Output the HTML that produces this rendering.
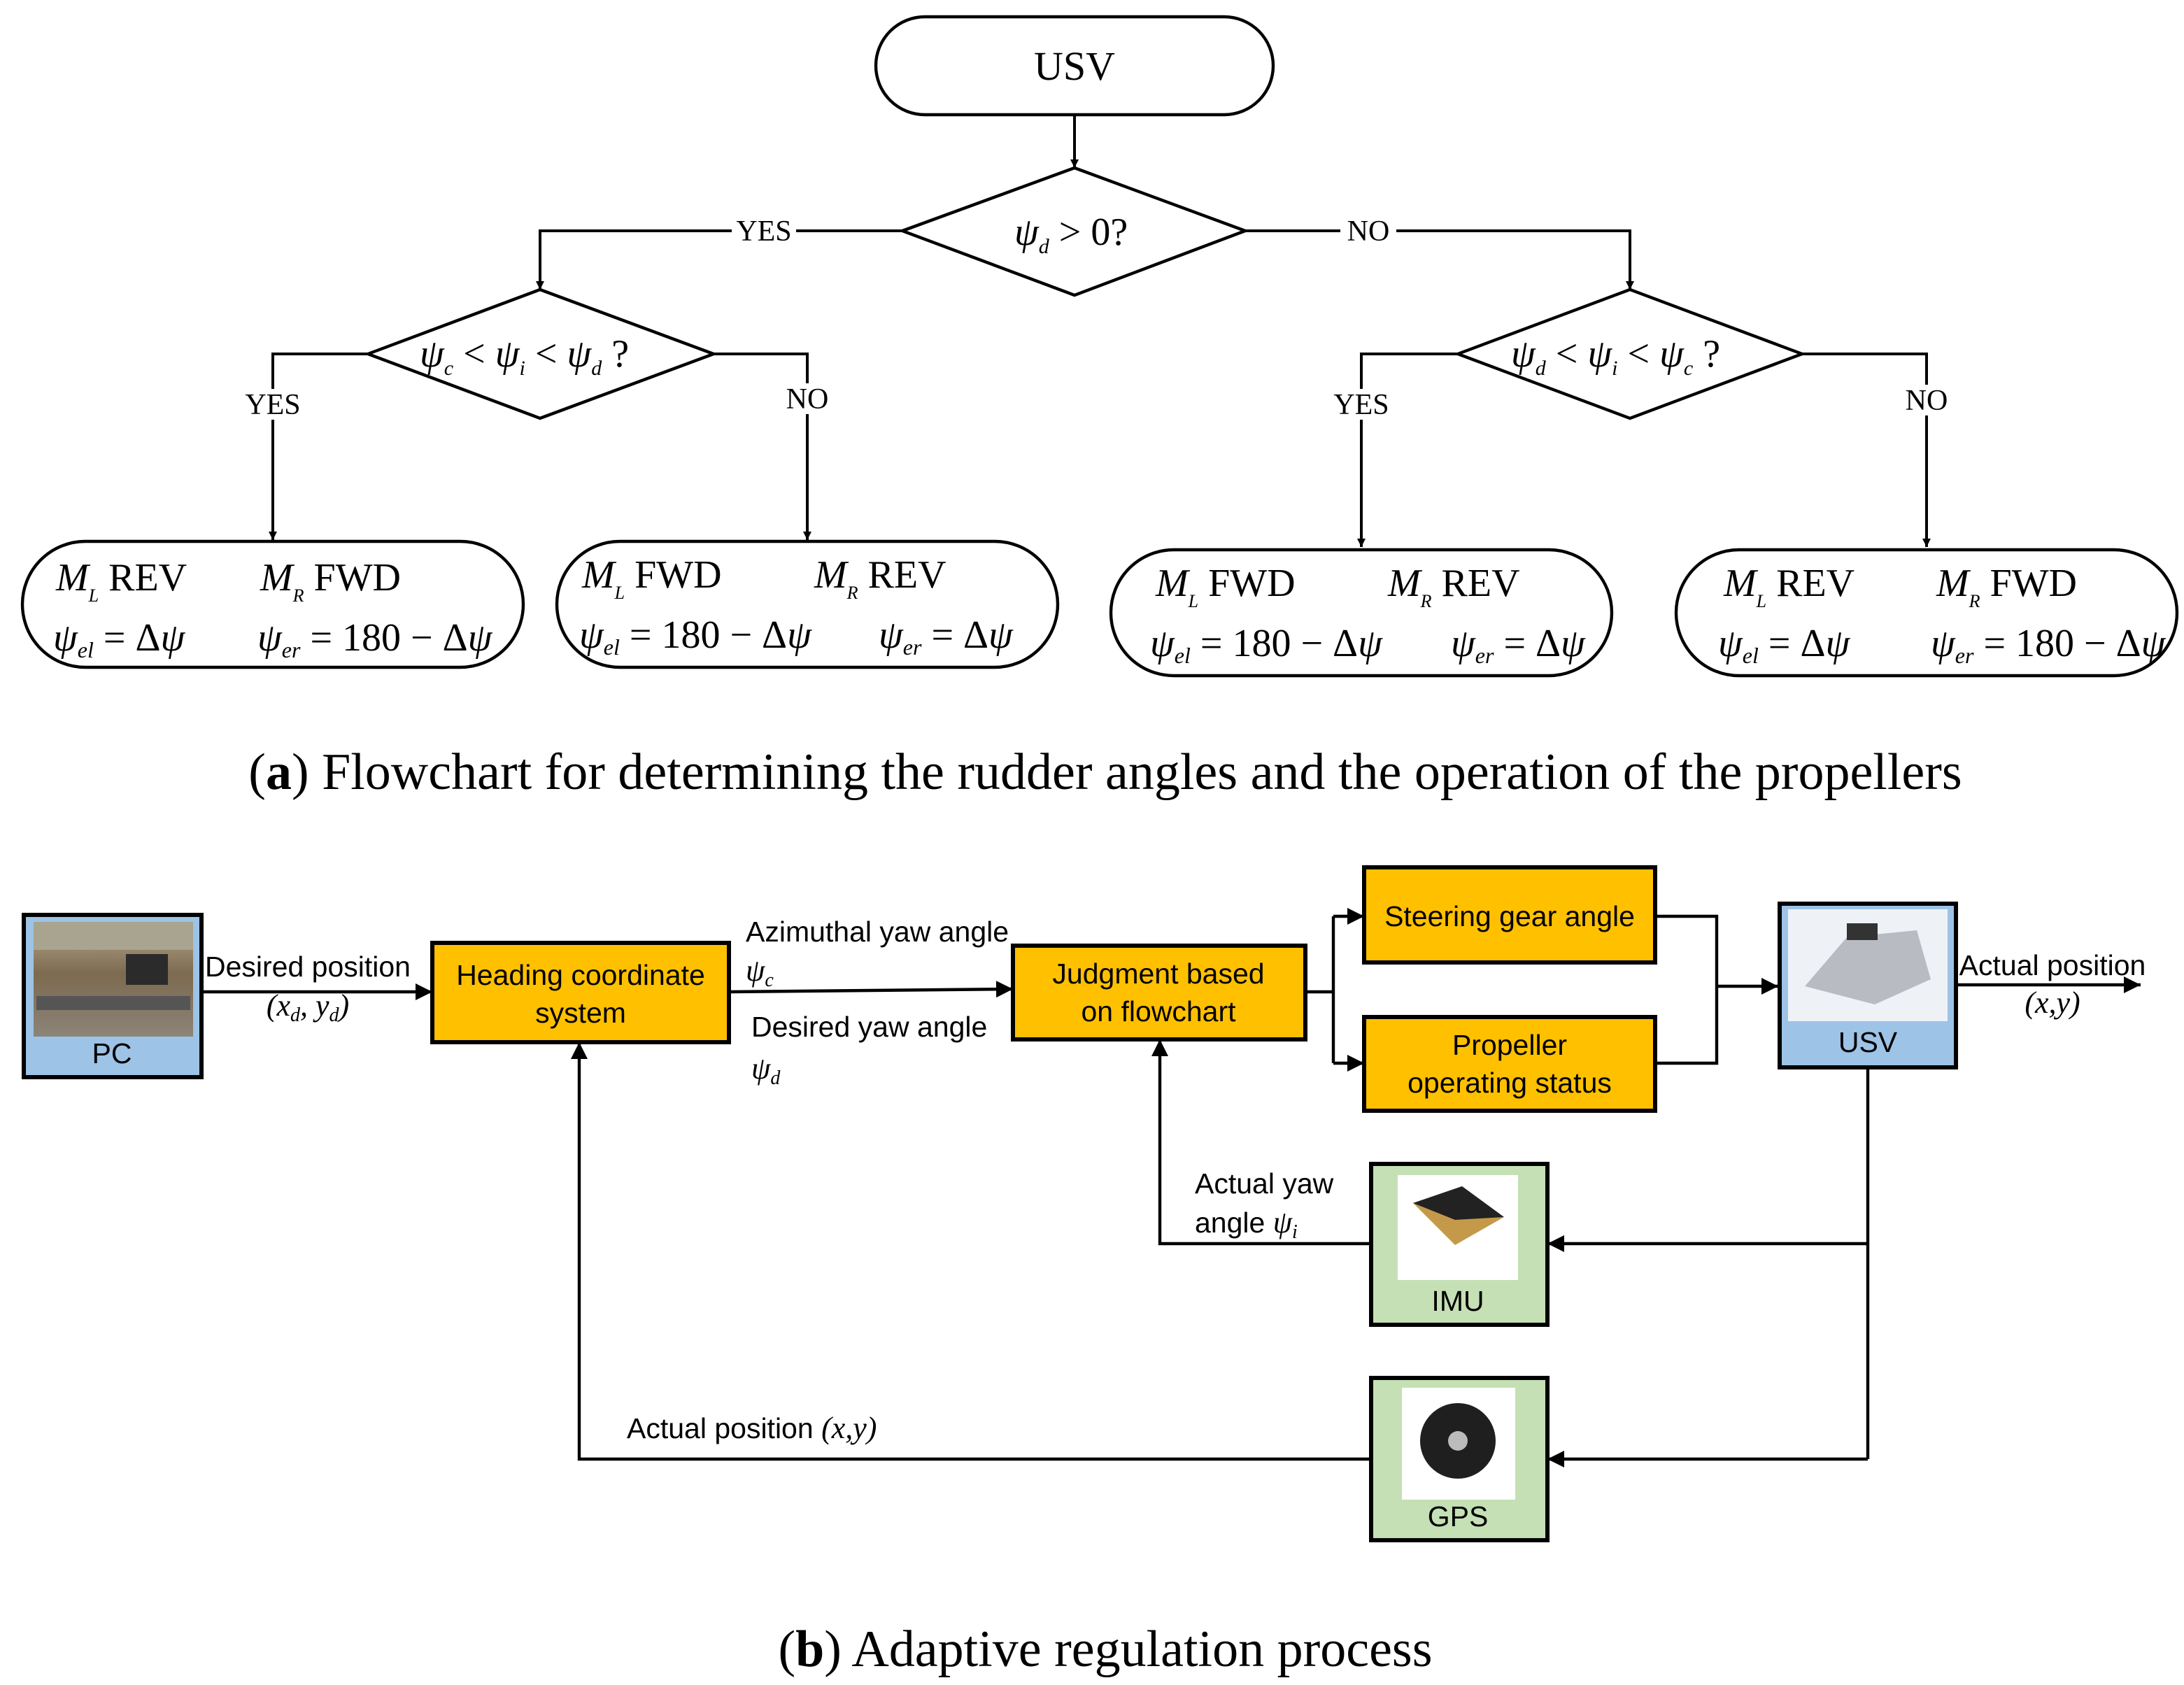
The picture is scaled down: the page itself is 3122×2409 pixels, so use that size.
<!DOCTYPE html>
<html><head><meta charset="utf-8"><style>
html,body{margin:0;padding:0;background:#fff;}
svg{display:block}
.s{font-family:"Liberation Serif",serif;}
.a{font-family:"Liberation Sans","DejaVu Sans",sans-serif;font-size:20.5px;}
</style></head><body>
<svg width="3122" height="2409" viewBox="0 0 1561 1204.5" xmlns="http://www.w3.org/2000/svg">
<defs>
<marker id="ar" viewBox="0 0 10 10" refX="10" refY="5" markerWidth="6" markerHeight="6" orient="auto" markerUnits="userSpaceOnUse"><path d="M0,0L10,5L0,10z" fill="#000"/></marker>
<marker id="ab" viewBox="0 0 10 10" refX="10" refY="5" markerWidth="12" markerHeight="12" orient="auto" markerUnits="userSpaceOnUse"><path d="M0,0L10,5L0,10z" fill="#000"/></marker>
<linearGradient id="pc" x1="0" y1="0" x2="0" y2="1"><stop offset="0" stop-color="#b8a98f"/><stop offset="0.45" stop-color="#7d6a50"/><stop offset="1" stop-color="#8b8478"/></linearGradient>
</defs>
<g fill="none" stroke="#000" stroke-width="2.2">
<rect x="626" y="12" width="284" height="70" rx="35"/>
<polygon points="645,165 768,120 890,165 768,211" fill="#fff"/>
<polygon points="263,253 386,207 510,253 386,299"/>
<polygon points="1042,253 1165,207 1288,253 1165,299"/>
<rect x="16" y="387" width="358" height="90" rx="45"/>
<rect x="398" y="387" width="358" height="90" rx="45"/>
<rect x="794" y="393" width="358" height="90" rx="45"/>
<rect x="1198" y="393" width="358" height="90" rx="45"/>
<g stroke-width="2">
<path d="M768,82V120" marker-end="url(#ar)"/>
<path d="M645,165H386V207" marker-end="url(#ar)"/>
<path d="M890,165H1165V207" marker-end="url(#ar)"/>
<path d="M263,253H195V386" marker-end="url(#ar)"/>
<path d="M510,253H577V386" marker-end="url(#ar)"/>
<path d="M1042,253H973V391" marker-end="url(#ar)"/>
<path d="M1288,253H1377V391" marker-end="url(#ar)"/>
</g>
</g>
<g class="s" font-size="21" text-anchor="middle">
<rect x="523" y="154" width="46" height="22" fill="#fff"/>
<text x="546" y="172">YES</text>
<rect x="958" y="154" width="40" height="22" fill="#fff"/>
<text x="978" y="172">NO</text>
<rect x="170" y="278" width="50" height="22" fill="#fff"/>
<text x="195" y="296">YES</text>
<rect x="557" y="274" width="40" height="22" fill="#fff"/>
<text x="577" y="292">NO</text>
<rect x="948" y="278" width="50" height="22" fill="#fff"/>
<text x="973" y="296">YES</text>
<rect x="1357" y="275" width="40" height="22" fill="#fff"/>
<text x="1377" y="293">NO</text>
<text x="768" y="57" font-size="29">USV</text>
</g>
<g class="s" font-size="28">
<text x="725" y="175"><tspan font-style="italic">ψ</tspan><tspan font-size="15" font-style="italic" dy="6">d</tspan><tspan dy="-6"> &gt; 0?</tspan></text>
<text x="300" y="262"><tspan font-style="italic">ψ</tspan><tspan font-size="15" font-style="italic" dy="6">c</tspan><tspan dy="-6"> &lt; </tspan><tspan font-style="italic">ψ</tspan><tspan font-size="15" font-style="italic" dy="6">i</tspan><tspan dy="-6"> &lt; </tspan><tspan font-style="italic">ψ</tspan><tspan font-size="15" font-style="italic" dy="6">d</tspan><tspan dy="-6"> ?</tspan></text>
<text x="1080" y="262"><tspan font-style="italic">ψ</tspan><tspan font-size="15" font-style="italic" dy="6">d</tspan><tspan dy="-6"> &lt; </tspan><tspan font-style="italic">ψ</tspan><tspan font-size="15" font-style="italic" dy="6">i</tspan><tspan dy="-6"> &lt; </tspan><tspan font-style="italic">ψ</tspan><tspan font-size="15" font-style="italic" dy="6">c</tspan><tspan dy="-6"> ?</tspan></text>
<!-- box1 -->
<text x="40" y="422"><tspan font-style="italic">M</tspan><tspan font-size="13" font-style="italic" dy="8">L</tspan><tspan dy="-8">  REV</tspan></text>
<text x="186" y="422"><tspan font-style="italic">M</tspan><tspan font-size="13" font-style="italic" dy="8">R</tspan><tspan dy="-8">  FWD</tspan></text>
<text x="38" y="465"><tspan font-style="italic">ψ</tspan><tspan font-size="16" font-style="italic" dy="5">el</tspan><tspan dy="-5"> = Δ</tspan><tspan font-style="italic">ψ</tspan></text>
<text x="184" y="465"><tspan font-style="italic">ψ</tspan><tspan font-size="16" font-style="italic" dy="5">er</tspan><tspan dy="-5"> = 180 − Δ</tspan><tspan font-style="italic">ψ</tspan></text>
<!-- box2 -->
<text x="416" y="420"><tspan font-style="italic">M</tspan><tspan font-size="13" font-style="italic" dy="8">L</tspan><tspan dy="-8">  FWD</tspan></text>
<text x="582" y="420"><tspan font-style="italic">M</tspan><tspan font-size="13" font-style="italic" dy="8">R</tspan><tspan dy="-8">  REV</tspan></text>
<text x="414" y="463"><tspan font-style="italic">ψ</tspan><tspan font-size="16" font-style="italic" dy="5">el</tspan><tspan dy="-5"> = 180 − Δ</tspan><tspan font-style="italic">ψ</tspan></text>
<text x="628" y="463"><tspan font-style="italic">ψ</tspan><tspan font-size="16" font-style="italic" dy="5">er</tspan><tspan dy="-5"> = Δ</tspan><tspan font-style="italic">ψ</tspan></text>
<!-- box3 -->
<text x="826" y="426"><tspan font-style="italic">M</tspan><tspan font-size="13" font-style="italic" dy="8">L</tspan><tspan dy="-8">  FWD</tspan></text>
<text x="992" y="426"><tspan font-style="italic">M</tspan><tspan font-size="13" font-style="italic" dy="8">R</tspan><tspan dy="-8">  REV</tspan></text>
<text x="822" y="469"><tspan font-style="italic">ψ</tspan><tspan font-size="16" font-style="italic" dy="5">el</tspan><tspan dy="-5"> = 180 − Δ</tspan><tspan font-style="italic">ψ</tspan></text>
<text x="1037" y="469"><tspan font-style="italic">ψ</tspan><tspan font-size="16" font-style="italic" dy="5">er</tspan><tspan dy="-5"> = Δ</tspan><tspan font-style="italic">ψ</tspan></text>
<!-- box4 -->
<text x="1232" y="426"><tspan font-style="italic">M</tspan><tspan font-size="13" font-style="italic" dy="8">L</tspan><tspan dy="-8">  REV</tspan></text>
<text x="1384" y="426"><tspan font-style="italic">M</tspan><tspan font-size="13" font-style="italic" dy="8">R</tspan><tspan dy="-8">  FWD</tspan></text>
<text x="1228" y="469"><tspan font-style="italic">ψ</tspan><tspan font-size="16" font-style="italic" dy="5">el</tspan><tspan dy="-5"> = Δ</tspan><tspan font-style="italic">ψ</tspan></text>
<text x="1380" y="469"><tspan font-style="italic">ψ</tspan><tspan font-size="16" font-style="italic" dy="5">er</tspan><tspan dy="-5"> = 180 − Δ</tspan><tspan font-style="italic">ψ</tspan></text>
</g>
<text class="s" x="790" y="564" font-size="37" text-anchor="middle">(<tspan font-weight="bold">a</tspan>) Flowchart for determining the rudder angles and the operation of the propellers</text>

<!-- part b -->
<g stroke="#000" stroke-width="3">
<rect x="17" y="654" width="127" height="116" fill="#9dc3e6"/>
<rect x="1272" y="646" width="126" height="117" fill="#9dc3e6"/>
<rect x="980" y="832" width="126" height="115" fill="#c5e0b4"/>
<rect x="980" y="985" width="126" height="116" fill="#c5e0b4"/>
<rect x="309" y="674" width="212" height="71" fill="#ffc000"/>
<rect x="724" y="676" width="209" height="67" fill="#ffc000"/>
<rect x="975" y="620" width="208" height="68" fill="#ffc000"/>
<rect x="975" y="727" width="208" height="67" fill="#ffc000"/>
</g>
<rect x="24" y="659" width="114" height="82" fill="url(#pc)"/>
<rect x="24" y="659" width="114" height="20" fill="#a8a48f"/>
<rect x="90" y="682" width="30" height="22" fill="#2b2b2b"/>
<rect x="26" y="712" width="110" height="10" fill="#555"/>
<rect x="1278" y="650" width="114" height="80" fill="#eef2f6"/>
<path d="M1290,705 L1320,670 L1370,665 L1380,700 L1340,718 Z" fill="#b8bcc2"/>
<rect x="1320" y="660" width="22" height="12" fill="#333"/>
<rect x="999" y="840" width="86" height="75" fill="#fff"/>
<path d="M1010,860 L1045,848 L1075,870 L1040,890 Z" fill="#c49a4a"/>
<path d="M1010,860 L1045,848 L1075,870 L1040,872 Z" fill="#222"/>
<rect x="1002" y="992" width="81" height="80" fill="#fff"/>
<circle cx="1042" cy="1030" r="27" fill="#1f1f1f"/>
<circle cx="1042" cy="1030" r="7" fill="#bbb"/>
<g fill="none" stroke="#000" stroke-width="2.2">
<path d="M144,709H309" marker-end="url(#ab)"/>
<path d="M521,709L724,707" marker-end="url(#ab)"/>
<path d="M933,709H953M953,655V760"/>
<path d="M953,655H975" marker-end="url(#ab)"/>
<path d="M953,760H975" marker-end="url(#ab)"/>
<path d="M1183,655H1227V760H1183"/>
<path d="M1227,705H1271" marker-end="url(#ab)"/>
<path d="M1398,704H1530" marker-end="url(#ab)"/>
<path d="M1335,763V1043"/>
<path d="M1335,889H1106" marker-end="url(#ab)"/>
<path d="M1335,1043H1106" marker-end="url(#ab)"/>
<path d="M980,889H829V743" marker-end="url(#ab)"/>
<path d="M980,1043H414V745" marker-end="url(#ab)"/>
</g>
<g class="a" text-anchor="middle">
<text x="80" y="760">PC</text>
<text x="1335" y="752">USV</text>
<text x="1042" y="937">IMU</text>
<text x="1042" y="1091">GPS</text>
<text x="415" y="704">Heading coordinate</text>
<text x="415" y="731">system</text>
<text x="828" y="703">Judgment based</text>
<text x="828" y="730">on flowchart</text>
<text x="1079" y="662">Steering gear angle</text>
<text x="1079" y="754">Propeller</text>
<text x="1079" y="781">operating status</text>
<text x="220" y="698">Desired position</text>
<text x="220" y="726" font-family="Liberation Serif,serif" font-style="italic" font-size="22">(x<tspan font-size="14" dy="4">d</tspan><tspan dy="-4">, y</tspan><tspan font-size="14" dy="4">d</tspan><tspan dy="-4">)</tspan></text>
<text x="1467" y="697">Actual position</text>
<text x="1467" y="724" font-family="Liberation Serif,serif" font-style="italic" font-size="22">(x,y)</text>
</g>
<g class="a">
<text x="533" y="673">Azimuthal yaw angle</text>
<text x="533" y="701" font-family="Liberation Serif,serif" font-style="italic" font-size="22">ψ<tspan font-size="14" dy="4">c</tspan></text>
<text x="537" y="741">Desired yaw angle</text>
<text x="537" y="771" font-family="Liberation Serif,serif" font-style="italic" font-size="22">ψ<tspan font-size="14" dy="4">d</tspan></text>
<text x="854" y="853">Actual yaw</text>
<text x="854" y="881">angle <tspan font-family="Liberation Serif,serif" font-style="italic" font-size="22">ψ<tspan font-size="14" dy="4">i</tspan></tspan></text>
<text x="448" y="1028">Actual position <tspan font-family="Liberation Serif,serif" font-style="italic" font-size="22">(x,y)</tspan></text>
</g>
<text class="s" x="790" y="1191" font-size="37" text-anchor="middle">(<tspan font-weight="bold">b</tspan>) Adaptive regulation process</text>
</svg>
</body></html>
